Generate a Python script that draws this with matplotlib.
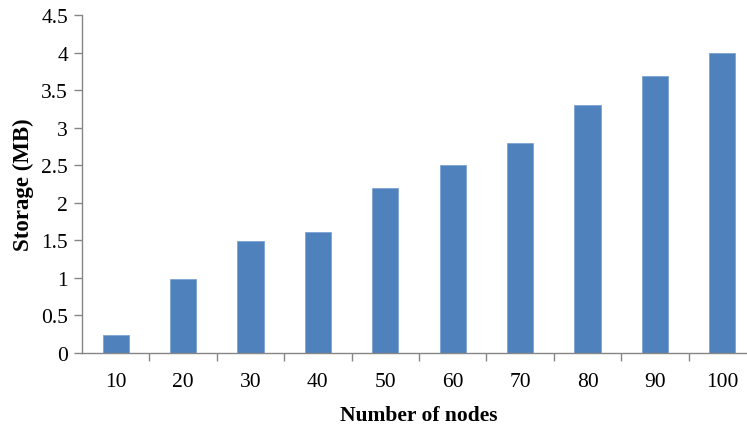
import numpy as np
import matplotlib.pyplot as plt

nodes = ['10', '20', '30', '40', '50', '60', '70', '80', '90', '100']
storage = [0.24, 0.99, 1.49, 1.61, 2.2, 2.5, 2.79, 3.3, 3.69, 4.0]

plt.rcParams['font.family'] = ['Liberation Serif', 'DejaVu Serif']

fig = plt.figure(figsize=(7.47, 4.27), dpi=100)
# axes run a little past the right edge of the figure
ax = fig.add_axes([82 / 747, 73 / 427, 674 / 747, 338 / 427])

x = np.arange(len(nodes))
ax.bar(x, storage, width=0.39, color='#4F81BD', edgecolor='#7FA3D3', linewidth=0.6)

ax.set_xlim(-0.5, len(nodes) - 0.5)
ax.set_ylim(0, 4.5)
ax.set_yticks(np.arange(0, 4.51, 0.5))
ax.set_yticklabels(['0', '0.5', '1', '1.5', '2', '2.5', '3', '3.5', '4', '4.5'])

# category labels sit at bar centres, tick marks fall between categories
ax.set_xticks(x)
ax.set_xticklabels(nodes)
ax.set_xticks(np.arange(0.5, len(nodes) - 0.5, 1), minor=True)
ax.tick_params(axis='x', which='major', length=0, pad=14, labelsize=15.5)
ax.tick_params(axis='x', which='minor', length=6, width=1, color='#868686', direction='out')
ax.tick_params(axis='y', length=6, width=1, color='#868686', labelsize=15.5, pad=4)

for side in ['top', 'right']:
    ax.spines[side].set_visible(False)
for side in ['left', 'bottom']:
    ax.spines[side].set_color('#868686')
    ax.spines[side].set_linewidth(1)

ax.set_xlabel('Number of nodes', fontsize=15.5, fontweight='bold', labelpad=10)
ax.set_ylabel('Storage (MB)', fontsize=16.5, fontweight='bold', labelpad=5)

fig.savefig('out.png', dpi=100)
